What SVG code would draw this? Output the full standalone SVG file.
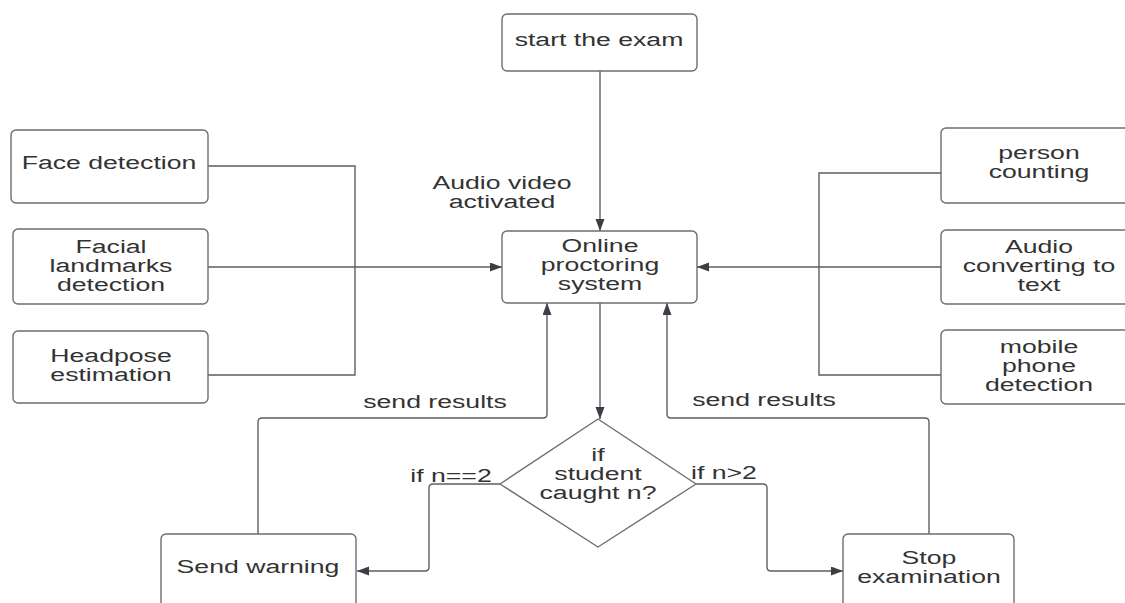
<svg xmlns="http://www.w3.org/2000/svg" width="1125" height="603" viewBox="0 0 1125 603">
<defs>
<style>
.box{fill:#fff;stroke:#6e6e6e;stroke-width:1.4}
.ln{fill:none;stroke:#5e5e5e;stroke-width:1.4}
.t{font-family:"Liberation Sans",Arial,sans-serif;font-size:18px;fill:#333;text-anchor:middle}
</style>
<marker id="ah" markerUnits="userSpaceOnUse" markerWidth="13" markerHeight="10" refX="12" refY="4.5" orient="auto">
<path d="M0,0 L12,4.5 L0,9 z" fill="#3a3f47"/>
</marker>
</defs>
<rect width="1125" height="603" fill="#fff"/>

<g id="connectors">
<path class="ln" d="M600,71 V231" marker-end="url(#ah)"/>
<path class="ln" d="M208,166 H355 V375 H208"/>
<path class="ln" d="M208,267 H502" marker-end="url(#ah)"/>
<path class="ln" d="M941,173 H819 V375 H941"/>
<path class="ln" d="M941,267 H697" marker-end="url(#ah)"/>
<path class="ln" d="M600,303 V419" marker-end="url(#ah)"/>
<path class="ln" d="M500,484 H433 Q429,484 429,488 V567 Q429,571 425,571 H357" marker-end="url(#ah)"/>
<path class="ln" d="M696,484 H763 Q767,484 767,488 V567 Q767,571 771,571 H843" marker-end="url(#ah)"/>
<path class="ln" d="M258,534 V422 Q258,418 262,418 H543 Q547,418 547,414 V303" marker-end="url(#ah)"/>
<path class="ln" d="M929,534 V422 Q929,418 925,418 H671 Q667,418 667,414 V303" marker-end="url(#ah)"/>
<text class="t" transform="translate(502,0) scale(1.48,1)"><tspan x="0" y="189">Audio video</tspan><tspan x="0" y="208">activated</tspan></text>
<text class="t" transform="translate(435,0) scale(1.48,1)" x="0" y="408">send results</text>
<text class="t" transform="translate(764,0) scale(1.48,1)" x="0" y="406">send results</text>
<text class="t" transform="translate(451,0) scale(1.48,1)" x="0" y="482">if n==2</text>
<text class="t" transform="translate(724,0) scale(1.48,1)" x="0" y="479">if n&gt;2</text>
</g>

<g id="start">
<rect class="box" x="502" y="14" width="195" height="57" rx="5"/>
<text class="t" transform="translate(599,0) scale(1.48,1)" x="0" y="46">start the exam</text>
</g>

<g id="online">
<rect class="box" x="502" y="231" width="195" height="72" rx="5"/>
<text class="t" transform="translate(600,0) scale(1.48,1)"><tspan x="0" y="252">Online</tspan><tspan x="0" y="271">proctoring</tspan><tspan x="0" y="290">system</tspan></text>
</g>

<g id="face">
<rect class="box" x="11" y="130" width="197" height="73" rx="5"/>
<text class="t" transform="translate(109,0) scale(1.48,1)" x="0" y="169">Face detection</text>
</g>

<g id="landmarks">
<rect class="box" x="13" y="229" width="195" height="75" rx="5"/>
<text class="t" transform="translate(111,0) scale(1.48,1)"><tspan x="0" y="253">Facial</tspan><tspan x="0" y="272">landmarks</tspan><tspan x="0" y="291">detection</tspan></text>
</g>

<g id="headpose">
<rect class="box" x="13" y="331" width="195" height="72" rx="5"/>
<text class="t" transform="translate(111,0) scale(1.48,1)"><tspan x="0" y="362">Headpose</tspan><tspan x="0" y="381">estimation</tspan></text>
</g>

<g id="person">
<rect class="box" x="941" y="128" width="196" height="75" rx="5"/>
<text class="t" transform="translate(1039,0) scale(1.48,1)"><tspan x="0" y="159">person</tspan><tspan x="0" y="178">counting</tspan></text>
</g>

<g id="audio">
<rect class="box" x="941" y="230" width="196" height="74" rx="5"/>
<text class="t" transform="translate(1039,0) scale(1.48,1)"><tspan x="0" y="253">Audio</tspan><tspan x="0" y="272">converting to</tspan><tspan x="0" y="291">text</tspan></text>
</g>

<g id="mobile">
<rect class="box" x="941" y="330" width="196" height="74" rx="5"/>
<text class="t" transform="translate(1039,0) scale(1.48,1)"><tspan x="0" y="353">mobile</tspan><tspan x="0" y="372">phone</tspan><tspan x="0" y="391">detection</tspan></text>
</g>

<g id="decision">
<path class="box" d="M598,419 L696,484 L598,547 L500,484 Z" stroke-linejoin="round"/>
<text class="t" transform="translate(598,0) scale(1.48,1)"><tspan x="0" y="461">if</tspan><tspan x="0" y="480">student</tspan><tspan x="0" y="499">caught n?</tspan></text>
</g>

<g id="warning">
<rect class="box" x="161" y="534" width="195" height="74" rx="5"/>
<text class="t" transform="translate(258,0) scale(1.48,1)" x="0" y="573">Send warning</text>
</g>

<g id="stop">
<rect class="box" x="843" y="534" width="171" height="74" rx="5"/>
<text class="t" transform="translate(929,0) scale(1.48,1)"><tspan x="0" y="564">Stop</tspan><tspan x="0" y="583">examination</tspan></text>
</g>
</svg>
